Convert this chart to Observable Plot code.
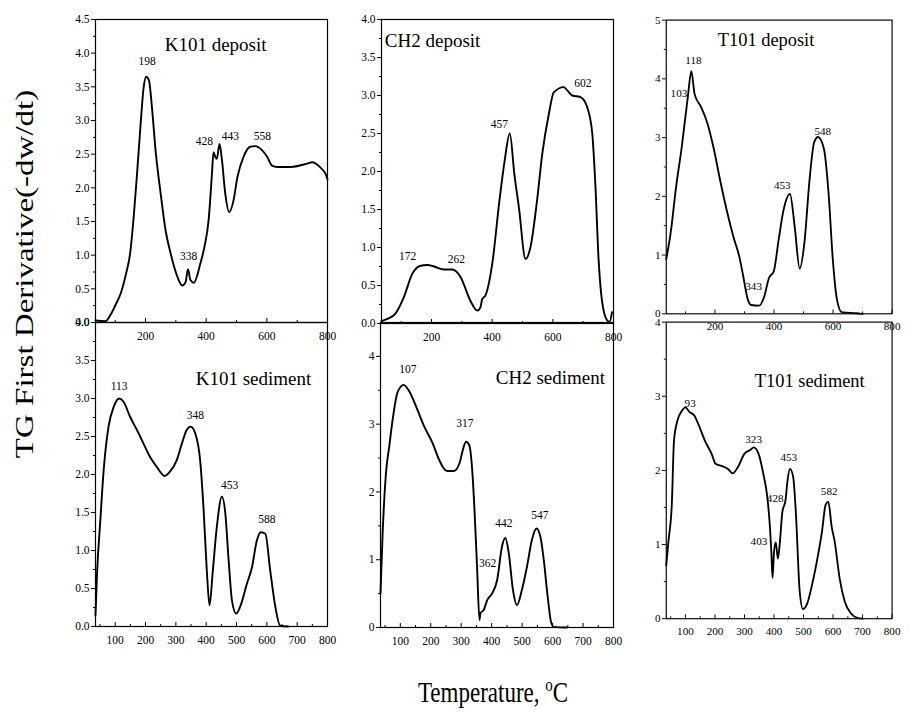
<!DOCTYPE html>
<html><head><meta charset="utf-8">
<script src="https://cdn.jsdelivr.net/npm/d3@7"></script>
<script src="https://cdn.jsdelivr.net/npm/@observablehq/plot@0.6"></script>
<style>
body{margin:0;background:#fff;}
#chart{position:relative;width:911px;height:713px;background:#fff;font-family:"Liberation Serif","Times New Roman",serif;color:#000;overflow:hidden;}
.panel{position:absolute;}
.panel svg, .panel svg text{font-family:"Liberation Serif","Times New Roman",serif !important;}
.lab{position:absolute;white-space:nowrap;line-height:1;}
</style></head><body><div id="chart"></div>
<script>
// ---------- data ----------
const yAxisLabel = "TG First Derivative(-dw/dt)";
const xAxisLabel = "Temperature, ";
const panelTitles = ["K101 deposit","CH2 deposit","T101 deposit","K101 sediment","CH2 sediment","T101 sediment"];
const topXTicks = [200,400,600,800];
const topXMinor = [100,300,500,700];
const botXTicks = [100,200,300,400,500,600,700,800];
const botXMinor = [50,150,250,350,450,550,650,750];

// K101 deposit
const k101DepT = [35,68,84,101,118,136,149,161,172,183,194,202,211,222,233,250,266,283,305,321,332,340,348,359,381,394,408,419,424,430,435,444,452,463,476,490,503,523,545,562,584,601,617,634,678,733,749,777,793,800];
const k101DepV = [0.03,0.02,0.11,0.26,0.43,0.73,1.02,1.57,2.21,2.90,3.50,3.65,3.60,3.15,2.56,1.91,1.37,1.02,0.68,0.55,0.60,0.79,0.63,0.59,0.88,1.12,1.52,2.21,2.53,2.46,2.43,2.65,2.41,1.91,1.64,1.81,2.16,2.46,2.61,2.62,2.56,2.46,2.33,2.31,2.31,2.36,2.38,2.30,2.21,2.13];
const k101DepPeaks = ["198","338","428","443","558"];
const k101DepPeakT = [205,342,394,480,585];
const k101DepPeakV = [3.88,0.98,2.69,2.76,2.76];

// CH2 deposit
const ch2DepT = [35,54,81,109,136,164,186,208,241,268,296,328,351,361,367,378,400,424,441,458,473,488,510,526,548,565,587,603,636,647,664,691,713,730,740,751,762,779,787,795];
const ch2DepV = [0.03,0.06,0.13,0.35,0.65,0.76,0.77,0.75,0.71,0.71,0.61,0.30,0.17,0.21,0.32,0.37,0.78,1.62,2.14,2.50,1.97,1.53,0.85,1.00,1.62,2.23,2.76,3.04,3.11,3.07,3.00,2.98,2.85,2.50,1.84,0.83,0.30,0.04,0.02,0.15];
const ch2DepPeaks = ["172","262","457","602"];
const ch2DepPeakT = [121,282,424,699];
const ch2DepPeakV = [0.88,0.85,2.62,3.16];

// T101 deposit
const t101DepT = [35,50,68,88,108,120,131,153,174,196,218,240,262,284,295,311,322,350,366,383,399,416,432,454,470,487,503,520,536,549,569,585,599,612,629,678,700];
const t101DepV = [0.93,1.38,2.15,2.86,3.69,4.13,3.74,3.52,3.25,2.81,2.26,1.76,1.32,0.94,0.66,0.25,0.15,0.14,0.28,0.61,0.72,1.27,1.76,2.04,1.49,0.77,1.21,2.26,2.92,3.01,2.81,2.04,0.94,0.28,0.03,0.01,0.0];
const t101DepPeaks = ["118","103","548","453","343"];
const t101DepPeakT = [127,78,565,428,331];
const t101DepPeakV = [4.31,3.76,3.10,2.19,0.46];

// K101 sediment
const k101SedT = [35,40,51,62,78,95,113,127,149,171,193,215,237,263,281,303,320,336,349,364,380,391,402,411,422,435,452,463,474,485,499,512,534,551,567,580,595,611,628,644,670];
const k101SedV = [0.15,0.69,1.40,2.06,2.63,2.89,3.00,2.96,2.76,2.59,2.41,2.23,2.10,1.98,2.04,2.19,2.41,2.59,2.63,2.54,2.19,1.57,0.74,0.28,0.74,1.31,1.71,1.49,0.87,0.34,0.17,0.26,0.56,0.78,1.13,1.24,1.22,0.74,0.26,0.01,0.0];
const k101SedPeaks = ["113","348","453","588"];
const k101SedPeakT = [113,364,477,600];
const k101SedPeakV = [3.16,2.78,1.86,1.41];

// CH2 sediment
const ch2SedT = [35,42,53,64,75,91,111,129,151,178,205,227,238,254,276,295,303,316,327,336,343,352,360,363,374,385,401,418,434,445,456,470,483,499,516,532,547,560,571,584,595,604,647];
const ch2SedV = [0.50,1.39,2.28,2.68,3.07,3.47,3.58,3.49,3.27,2.97,2.73,2.48,2.38,2.31,2.31,2.43,2.58,2.74,2.68,2.33,1.79,0.90,0.11,0.21,0.26,0.40,0.50,0.70,1.20,1.32,1.10,0.55,0.33,0.55,0.90,1.29,1.46,1.34,1.00,0.45,0.08,0.01,0.0];
const ch2SedPeaks = ["107","317","362","442","547"];
const ch2SedPeakT = [125,312,387,440,558];
const ch2SedPeakV = [3.81,3.01,0.95,1.53,1.66];

// T101 sediment
const t101SedT = [35,42,54,61,72,86,100,113,130,145,167,189,202,222,244,260,277,299,321,331,348,364,377,386,391,395,400,406,413,419,428,439,446,454,465,474,487,498,512,529,545,562,575,584,595,606,622,639,661,683,700];
const t101SedV = [0.72,1.03,1.56,2.39,2.66,2.79,2.85,2.79,2.74,2.61,2.39,2.22,2.09,2.06,2.02,1.96,2.04,2.22,2.28,2.31,2.22,1.95,1.65,1.25,0.90,0.55,0.90,1.03,0.81,0.99,1.43,1.60,1.87,2.02,1.91,1.43,0.37,0.13,0.20,0.46,0.77,1.16,1.54,1.58,1.25,1.03,0.55,0.24,0.07,0.01,0.0];
const t101SedPeaks = ["93","323","453","428","403","582"];
const t101SedPeakT = [116,331,450,404,349,587];
const t101SedPeakV = [2.91,2.42,2.17,1.62,1.04,1.71];

// ---------- layout ----------
const chart = document.getElementById("chart");
const mL = 40, mR = 20, mT = 12, mB = 28;
const f1 = d3.format(".1f"), f0 = d3.format("d");

const panels = [
  {left:95, top:19, w:232, h:303, ymax:4.5, yt:d3.range(0,4.51,0.5), ym:d3.range(0.25,4.5,0.5), fmt:f1, xt:topXTicks, xm:topXMinor,
   t:k101DepT, v:k101DepV, pk:k101DepPeaks, pt:k101DepPeakT, pv:k101DepPeakV, title:panelTitles[0], tx:431, ty:4.12, ta:"middle"},
  {left:381, top:19, w:232, h:304, ymax:4.0, yt:d3.range(0,4.01,0.5), ym:d3.range(0.25,4,0.5), fmt:f1, xt:topXTicks, xm:topXMinor,
   t:ch2DepT, v:ch2DepV, pk:ch2DepPeaks, pt:ch2DepPeakT, pv:ch2DepPeakV, title:panelTitles[1], tx:46, ty:3.72, ta:"start"},
  {left:667, top:20, w:233, h:303, ymax:5, yt:d3.range(0,5.01,1), ym:d3.range(0.5,5,1), fmt:f0, xt:topXTicks, xm:topXMinor,
   t:t101DepT, v:t101DepV, pk:t101DepPeaks, pt:t101DepPeakT, pv:t101DepPeakV, title:panelTitles[2], tx:373, ty:4.66, ta:"middle"},
  {left:95, top:322, w:232, h:304, ymax:4.0, yt:d3.range(0,4.01,0.5), ym:d3.range(0.25,4,0.5), fmt:f1, xt:botXTicks, xm:botXMinor,
   t:k101SedT, v:k101SedV, pk:k101SedPeaks, pt:k101SedPeakT, pv:k101SedPeakV, title:panelTitles[3], tx:556, ty:3.26, ta:"middle"},
  {left:380, top:322, w:233, h:305, ymax:4.5, yt:d3.range(0,4.01,1), ym:d3.range(0.5,4.5,1), fmt:f0, xt:botXTicks, xm:botXMinor,
   t:ch2SedT, v:ch2SedV, pk:ch2SedPeaks, pt:ch2SedPeakT, pv:ch2SedPeakV, title:panelTitles[4], tx:593, ty:3.68, ta:"middle"},
  {left:667, top:322, w:233, h:306, ymax:4.0, yt:d3.range(0,4.01,1), ym:d3.range(0.5,4,1), fmt:f0, xt:botXTicks, xm:botXMinor,
   t:t101SedT, v:t101SedV, pk:t101SedPeaks, pt:t101SedPeakT, pv:t101SedPeakV, title:panelTitles[5], tx:521, ty:3.2, ta:"middle"}
];

for (const p of panels) {
  const data = p.t.map((t, i) => ({t, v: p.v[i]}));
  const peaks = p.pk.map((s, i) => ({s, x: p.pt[i], y: p.pv[i]}));
  const svg = Plot.plot({
    width: p.w + mL + mR, height: p.h + mT + mB,
    marginLeft: mL, marginRight: mR, marginTop: mT, marginBottom: mB,
    style: {background: "transparent", overflow: "visible", fontFamily: "'Liberation Serif', serif", fontSize: "11px", color: "black"},
    x: {domain: [35, 800]},
    y: {domain: [0, p.ymax]},
    marks: [
      Plot.axisY({ticks: p.yt, tickFormat: p.fmt, tickSize: 4, tickPadding: 2, label: null, fontSize: 11.5}),
      Plot.axisY({ticks: p.ym, tickSize: 2, text: null, label: null}),
      Plot.axisX({ticks: p.xt, tickSize: -4, text: null, label: null}),
      Plot.axisX({ticks: p.xm, tickSize: -2, text: null, label: null}),
      Plot.axisX({ticks: p.xt, tickSize: 0, tickPadding: 9, tickFormat: f0, label: null, fontSize: 11.5}),
      Plot.frame({stroke: "black", strokeWidth: 1.2}),
      Plot.line(data, {x: "t", y: "v", stroke: "black", strokeWidth: 1.9, curve: "monotone-x"}),
      Plot.text(peaks, {x: "x", y: "y", text: "s", fontSize: 11.5}),
      Plot.text([p.title], {x: p.tx, y: p.ty, text: d => d, fontSize: 19, textAnchor: p.ta})
    ]
  });
  const div = document.createElement("div");
  div.className = "panel";
  div.style.left = (p.left - mL) + "px";
  div.style.top = (p.top - mT) + "px";
  div.appendChild(svg);
  chart.appendChild(div);
}

const yl = document.createElement("div");
yl.className = "lab";
yl.textContent = yAxisLabel;
yl.style.cssText += "left:24px;top:274px;font-size:25px;transform:translate(-50%,-50%) rotate(-90deg) scale(1.32,1);";
chart.appendChild(yl);

const xl = document.createElement("div");
xl.className = "lab";
xl.innerHTML = xAxisLabel + '<sup style="font-size:15px;">o</sup>C';
xl.style.cssText += "left:493px;top:691px;font-size:23px;transform:translate(-50%,-50%) scale(1,1.3);";
chart.appendChild(xl);
</script>
</body></html>
